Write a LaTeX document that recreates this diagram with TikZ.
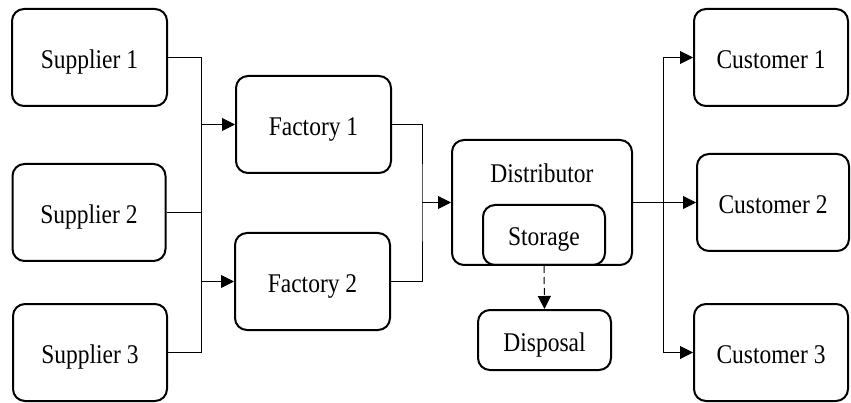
\documentclass[tikz,border=0pt]{standalone}
\usepackage{fontspec}
\setmainfont{Liberation Serif}[FakeStretch=0.87]
\usetikzlibrary{arrows.meta}
\begin{document}
\begin{tikzpicture}[x=1pt,y=-1pt,
  box/.style={draw=black,line width=2pt,rounded corners=12pt,align=center,
    font=\fontsize{27}{30}\selectfont,inner sep=0pt,text height=22pt,text depth=0pt},
  conn/.style={draw=black,line width=1pt},
  arr/.style={conn,-{Triangle[length=13pt,width=13pt]}},
  lbl/.style={font=\fontsize{27}{30}\selectfont,inner sep=0pt,text height=22pt,text depth=0pt}]
\useasboundingbox (0,0) rectangle (851,403);
% suppliers
\node[box,minimum width=155pt,minimum height=97pt] (s1) at (89.5,57.5) {Supplier 1};
\node[box,minimum width=153pt,minimum height=97pt] (s2) at (89,212.5) {Supplier 2};
\node[box,minimum width=154pt,minimum height=97pt] (s3) at (90,352.5) {Supplier 3};
% factories
\node[box,minimum width=155pt,minimum height=97pt] (f1) at (313.5,124.5) {Factory 1};
\node[box,minimum width=155pt,minimum height=97pt] (f2) at (312.5,281.5) {Factory 2};
% distributor
\node[box,minimum width=180pt,minimum height=125pt] (dist) at (542,202.5) {};
\node[lbl] (distlbl) at (542,172) {Distributor};
\node[box,minimum width=122pt,minimum height=60pt] (stor) at (544,235) {Storage};
\node[box,minimum width=133pt,minimum height=60pt] (disp) at (544.5,340) {Disposal};
% customers
\node[box,minimum width=154pt,minimum height=97pt] (c1) at (771,57.5) {Customer 1};
\node[box,minimum width=152pt,minimum height=97pt] (c2) at (773,202.5) {Customer 2};
\node[box,minimum width=154pt,minimum height=97pt] (c3) at (771,352.5) {Customer 3};
% junctions
\coordinate (jA) at (201,57.5);
\coordinate (jC) at (422,202.5);
\coordinate (jD) at (663,202.5);
% supplier bus
\draw[conn] (s1.east) -| (jA |- s3.east) -- (s3.east);
\draw[conn] (s2.east) -- (s2.east -| jA);
\draw[arr] (jA |- f1.west) -- (f1.west);
\draw[arr] (jA |- f2.west) -- (f2.west);
% factory bus
\draw[conn] (f1.east) -| (jC) |- (f2.east);
\draw[arr] (jC) -- (dist.west);
% distributor to customers
\draw[conn] (dist.east) -- (jD);
\draw[arr] (jD) -- (c2.west);
\draw[arr] (jD) |- (c1.west);
\draw[arr] (jD) |- (c3.west);
% disposal
\draw[arr,dash pattern=on 7pt off 4pt] (stor.south) -- (disp.north);
\end{tikzpicture}
\end{document}
